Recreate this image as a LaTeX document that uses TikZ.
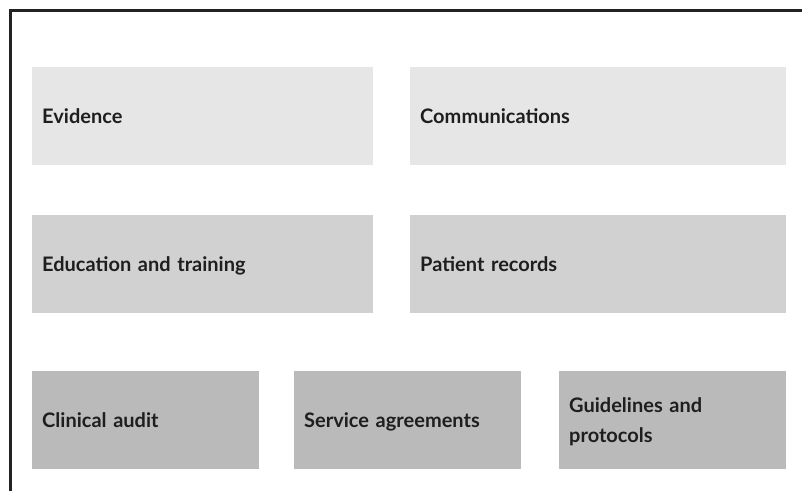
\documentclass[tikz,border=0pt]{standalone}
\usepackage{fontspec}
\setmainfont{Lato}
\definecolor{framegray}{HTML}{222222}
\definecolor{tierone}{HTML}{E6E6E6}
\definecolor{tiertwo}{HTML}{D1D1D1}
\definecolor{tierthree}{HTML}{BABABA}
\definecolor{labelink}{HTML}{1E1E1E}
\tikzset{
  cell/.style={anchor=north west, inner xsep=10pt, inner ysep=0pt,
    align=left, font=\fontsize{20}{30}\selectfont\bfseries, text=labelink,
    text depth=0pt, minimum height=98pt},
  wide/.style={cell, text width=321pt},
  wider/.style={cell, text width=356pt},
  narrow/.style={cell, text width=207pt}
}
\begin{document}
\begin{tikzpicture}[x=1pt,y=-1pt]
\useasboundingbox (0,0) rectangle (802,491);
% open frame: left and top rules
\draw[line width=2.6pt, framegray] (10.75,491) -- (10.75,10.75) -- (802,10.75);
% first tier
\node[wide, fill=tierone] (evidence) at (32,67) {Evidence};
\node[wider, fill=tierone] (comm) at (410,67) {Communications};
% second tier
\node[wide, fill=tiertwo] (edu) at (32,214.5) {Education and training};
\node[wider, fill=tiertwo] (records) at (410,214.5) {Patient records};
% third tier
\node[narrow, fill=tierthree] (audit) at (32,371) {Clinical audit};
\node[narrow, fill=tierthree] (service) at (294,371) {Service agreements};
\node[narrow, fill=tierthree, text depth=30pt] (guide) at (559,371) {Guidelines and\\protocols};
\end{tikzpicture}
\end{document}
